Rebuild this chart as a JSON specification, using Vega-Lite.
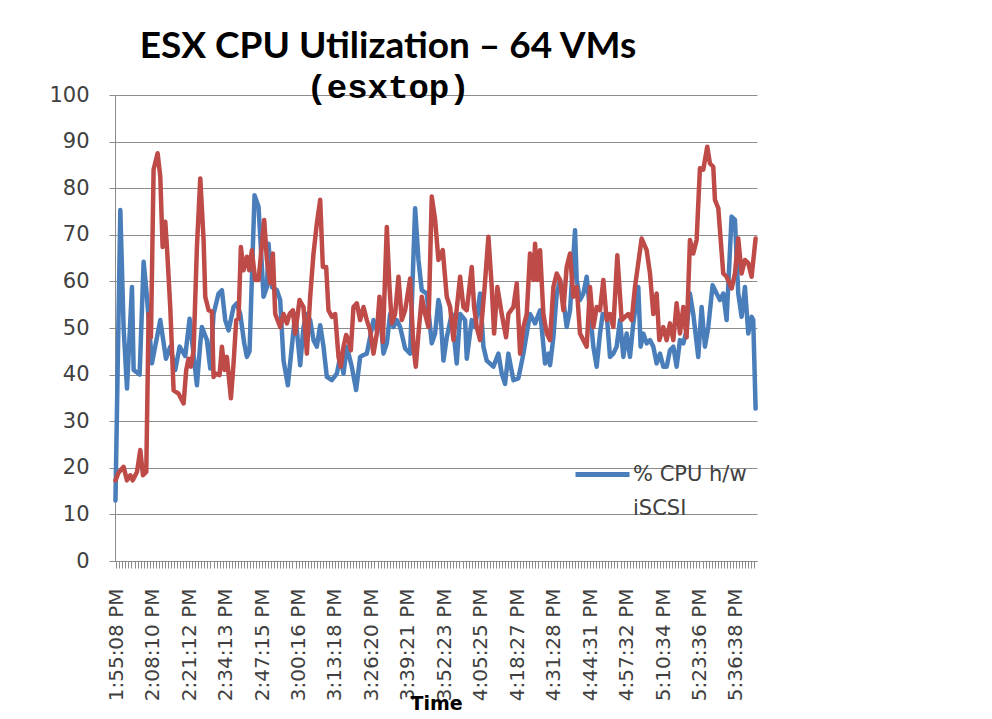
{
  "$schema": "https://vega.github.io/schema/vega-lite/v6.json",
  "width": 642,
  "height": 466,
  "autosize": "none",
  "padding": {"left": 115, "top": 95, "right": 235, "bottom": 158},
  "background": "white",
  "config": {"view": {"stroke": null}, "font": "DejaVu Sans"},
  "title": {
    "text": "ESX CPU Utilization – 64 VMs",
    "subtitle": "(esxtop)",
    "font": "Lato",
    "fontSize": 37,
    "fontWeight": "bold",
    "color": "black",
    "subtitleFont": "Liberation Mono",
    "subtitleFontSize": 34,
    "subtitleFontWeight": "bold",
    "subtitleColor": "black",
    "anchor": "middle",
    "dx": -48,
    "offset": -22,
    "subtitlePadding": 5
  },
  "datasets": {
    "hw": [
      {"t":6890,"cpu":13},{"t":6994,"cpu":75.3},{"t":7065,"cpu":50},{"t":7137,"cpu":37},{"t":7244,"cpu":58.8},{"t":7280,"cpu":41},{"t":7408,"cpu":40},{"t":7494,"cpu":64.2},{"t":7565,"cpu":56.7},{"t":7672,"cpu":42.4},{"t":7851,"cpu":51.7},{"t":7973,"cpu":43.4},{"t":8065,"cpu":46},{"t":8173,"cpu":41},{"t":8266,"cpu":46},{"t":8387,"cpu":44},{"t":8480,"cpu":52},{"t":8637,"cpu":37.7},{"t":8709,"cpu":46.7},{"t":8744,"cpu":50.2},{"t":8851,"cpu":47.4},{"t":8923,"cpu":41.3},{"t":8994,"cpu":53},{"t":9101,"cpu":57.4},{"t":9173,"cpu":58.1},{"t":9244,"cpu":51.7},{"t":9316,"cpu":49.5},{"t":9423,"cpu":54.5},{"t":9494,"cpu":55.3},{"t":9566,"cpu":53},{"t":9652,"cpu":46.7},{"t":9709,"cpu":43.8},{"t":9766,"cpu":45},{"t":9873,"cpu":78.5},{"t":9959,"cpu":76},{"t":9995,"cpu":69.6},{"t":10066,"cpu":56.7},{"t":10138,"cpu":58.8},{"t":10173,"cpu":68.1},{"t":10245,"cpu":58.8},{"t":10352,"cpu":58.1},{"t":10423,"cpu":56},{"t":10495,"cpu":43},{"t":10588,"cpu":37.7},{"t":10745,"cpu":53},{"t":10781,"cpu":49.5},{"t":10852,"cpu":42},{"t":10923,"cpu":50.2},{"t":10995,"cpu":53},{"t":11066,"cpu":51.7},{"t":11138,"cpu":47.4},{"t":11209,"cpu":46},{"t":11281,"cpu":50.6},{"t":11352,"cpu":46},{"t":11424,"cpu":39.5},{"t":11531,"cpu":38.8},{"t":11638,"cpu":40.2},{"t":11709,"cpu":43.8},{"t":11781,"cpu":40.2},{"t":11852,"cpu":46},{"t":11959,"cpu":41.7},{"t":12052,"cpu":36.7},{"t":12138,"cpu":43.8},{"t":12210,"cpu":44.2},{"t":12281,"cpu":44.5},{"t":12424,"cpu":51.7},{"t":12495,"cpu":49.5},{"t":12567,"cpu":53},{"t":12638,"cpu":44.5},{"t":12710,"cpu":46.7},{"t":12781,"cpu":53},{"t":12853,"cpu":50.2},{"t":12924,"cpu":51.7},{"t":12996,"cpu":50.2},{"t":13103,"cpu":45.6},{"t":13210,"cpu":44.5},{"t":13317,"cpu":75.7},{"t":13389,"cpu":64.6},{"t":13460,"cpu":58.1},{"t":13567,"cpu":57.4},{"t":13674,"cpu":46.7},{"t":13746,"cpu":48.8},{"t":13817,"cpu":56},{"t":13853,"cpu":54.5},{"t":13925,"cpu":43},{"t":13996,"cpu":48},{"t":14103,"cpu":53},{"t":14210,"cpu":42.4},{"t":14282,"cpu":53},{"t":14389,"cpu":51.7},{"t":14425,"cpu":43.4},{"t":14532,"cpu":51.7},{"t":14603,"cpu":50.2},{"t":14711,"cpu":57.4},{"t":14782,"cpu":46},{"t":14853,"cpu":43},{"t":14996,"cpu":41.7},{"t":15104,"cpu":44.5},{"t":15175,"cpu":40.2},{"t":15246,"cpu":38},{"t":15318,"cpu":44.5},{"t":15425,"cpu":38.8},{"t":15532,"cpu":39.2},{"t":15640,"cpu":44.5},{"t":15711,"cpu":48.8},{"t":15782,"cpu":53},{"t":15890,"cpu":51},{"t":15997,"cpu":53.8},{"t":16104,"cpu":42.4},{"t":16175,"cpu":44.5},{"t":16211,"cpu":42},{"t":16283,"cpu":48},{"t":16354,"cpu":57.4},{"t":16425,"cpu":60.3},{"t":16497,"cpu":56},{"t":16568,"cpu":50.2},{"t":16640,"cpu":53.8},{"t":16747,"cpu":71},{"t":16783,"cpu":60.3},{"t":16854,"cpu":56},{"t":16926,"cpu":57.4},{"t":16997,"cpu":61},{"t":17068,"cpu":53.8},{"t":17140,"cpu":46},{"t":17211,"cpu":41.7},{"t":17283,"cpu":48.8},{"t":17340,"cpu":53},{"t":17426,"cpu":53},{"t":17497,"cpu":43.8},{"t":17569,"cpu":44.5},{"t":17640,"cpu":46},{"t":17712,"cpu":51.7},{"t":17783,"cpu":43.8},{"t":17854,"cpu":48.8},{"t":17926,"cpu":43.8},{"t":17997,"cpu":51},{"t":18104,"cpu":58.8},{"t":18154,"cpu":46},{"t":18212,"cpu":48.8},{"t":18283,"cpu":46.7},{"t":18355,"cpu":47.4},{"t":18426,"cpu":46},{"t":18497,"cpu":42.4},{"t":18569,"cpu":44.5},{"t":18640,"cpu":41.7},{"t":18712,"cpu":41.7},{"t":18783,"cpu":45.2},{"t":18855,"cpu":46},{"t":18926,"cpu":41.7},{"t":18998,"cpu":47.4},{"t":19069,"cpu":46.7},{"t":19140,"cpu":49.5},{"t":19212,"cpu":57.4},{"t":19283,"cpu":53},{"t":19390,"cpu":43.8},{"t":19462,"cpu":54.5},{"t":19533,"cpu":46},{"t":19605,"cpu":50.2},{"t":19698,"cpu":59.2},{"t":19784,"cpu":57.4},{"t":19855,"cpu":56},{"t":19927,"cpu":57.4},{"t":19998,"cpu":51.7},{"t":20105,"cpu":73.9},{"t":20177,"cpu":73.2},{"t":20248,"cpu":57.4},{"t":20320,"cpu":52.4},{"t":20391,"cpu":58.8},{"t":20463,"cpu":48.8},{"t":20534,"cpu":52.4},{"t":20569,"cpu":51.7},{"t":20620,"cpu":32.7}
    ],
    "sw": [
      {"t":6890,"cpu":17.3},{"t":6958,"cpu":19},{"t":7065,"cpu":20.2},{"t":7137,"cpu":17.3},{"t":7208,"cpu":18.4},{"t":7258,"cpu":17.3},{"t":7351,"cpu":19.1},{"t":7422,"cpu":23.8},{"t":7480,"cpu":18.4},{"t":7551,"cpu":19.1},{"t":7601,"cpu":53},{"t":7651,"cpu":48},{"t":7708,"cpu":84},{"t":7794,"cpu":87.5},{"t":7851,"cpu":82.5},{"t":7901,"cpu":67.4},{"t":7958,"cpu":72.8},{"t":7994,"cpu":67.4},{"t":8065,"cpu":54.5},{"t":8137,"cpu":36.6},{"t":8244,"cpu":35.9},{"t":8351,"cpu":33.8},{"t":8408,"cpu":41},{"t":8458,"cpu":43.4},{"t":8508,"cpu":41.7},{"t":8566,"cpu":45.2},{"t":8637,"cpu":67.4},{"t":8709,"cpu":82.1},{"t":8780,"cpu":68.9},{"t":8816,"cpu":56.7},{"t":8887,"cpu":53.8},{"t":8959,"cpu":53.5},{"t":8994,"cpu":39.5},{"t":9044,"cpu":40.2},{"t":9123,"cpu":39.9},{"t":9173,"cpu":46},{"t":9230,"cpu":41},{"t":9280,"cpu":43.8},{"t":9366,"cpu":34.9},{"t":9423,"cpu":42.4},{"t":9480,"cpu":51.7},{"t":9530,"cpu":52},{"t":9580,"cpu":67.4},{"t":9637,"cpu":62.4},{"t":9709,"cpu":65.3},{"t":9759,"cpu":62.4},{"t":9816,"cpu":66.7},{"t":9887,"cpu":60.3},{"t":9959,"cpu":60.3},{"t":10080,"cpu":73.2},{"t":10138,"cpu":64.6},{"t":10209,"cpu":59.6},{"t":10266,"cpu":66},{"t":10316,"cpu":53},{"t":10423,"cpu":50.2},{"t":10495,"cpu":53},{"t":10566,"cpu":51},{"t":10623,"cpu":53},{"t":10695,"cpu":53.8},{"t":10745,"cpu":48.8},{"t":10838,"cpu":56},{"t":10923,"cpu":54.5},{"t":10995,"cpu":44.5},{"t":11066,"cpu":56.7},{"t":11138,"cpu":66},{"t":11209,"cpu":72.4},{"t":11281,"cpu":77.5},{"t":11338,"cpu":63.1},{"t":11409,"cpu":63.1},{"t":11459,"cpu":53.8},{"t":11531,"cpu":52.4},{"t":11602,"cpu":53},{"t":11674,"cpu":43.8},{"t":11724,"cpu":41.7},{"t":11781,"cpu":46},{"t":11838,"cpu":48.5},{"t":11888,"cpu":47.4},{"t":11938,"cpu":45.2},{"t":11995,"cpu":54.5},{"t":12067,"cpu":55.3},{"t":12138,"cpu":51.7},{"t":12210,"cpu":54.5},{"t":12281,"cpu":51.7},{"t":12352,"cpu":49.5},{"t":12424,"cpu":44.5},{"t":12495,"cpu":48.8},{"t":12553,"cpu":56.7},{"t":12624,"cpu":47},{"t":12710,"cpu":71.7},{"t":12767,"cpu":58.8},{"t":12817,"cpu":51},{"t":12888,"cpu":53},{"t":12960,"cpu":61},{"t":13031,"cpu":51.7},{"t":13103,"cpu":53.8},{"t":13210,"cpu":60.6},{"t":13281,"cpu":46},{"t":13331,"cpu":41.7},{"t":13389,"cpu":48.8},{"t":13460,"cpu":56.7},{"t":13531,"cpu":53},{"t":13603,"cpu":50.2},{"t":13674,"cpu":78.2},{"t":13746,"cpu":73.2},{"t":13817,"cpu":64.6},{"t":13853,"cpu":65.3},{"t":13910,"cpu":66.7},{"t":13996,"cpu":56.7},{"t":14068,"cpu":54.5},{"t":14139,"cpu":47.4},{"t":14282,"cpu":61},{"t":14353,"cpu":54.5},{"t":14425,"cpu":53.8},{"t":14532,"cpu":63.1},{"t":14582,"cpu":54.5},{"t":14639,"cpu":50.2},{"t":14711,"cpu":47.4},{"t":14803,"cpu":58.1},{"t":14889,"cpu":69.6},{"t":14961,"cpu":58.8},{"t":15011,"cpu":48.8},{"t":15082,"cpu":58.8},{"t":15175,"cpu":53},{"t":15268,"cpu":48},{"t":15318,"cpu":53},{"t":15425,"cpu":54.5},{"t":15497,"cpu":59.6},{"t":15568,"cpu":44.5},{"t":15640,"cpu":50.2},{"t":15711,"cpu":53},{"t":15782,"cpu":66},{"t":15854,"cpu":60.3},{"t":15890,"cpu":68.1},{"t":15940,"cpu":60.3},{"t":15997,"cpu":66.7},{"t":16068,"cpu":53},{"t":16140,"cpu":48.8},{"t":16211,"cpu":47.4},{"t":16283,"cpu":58.8},{"t":16354,"cpu":61.7},{"t":16425,"cpu":60.3},{"t":16497,"cpu":53.8},{"t":16568,"cpu":63.1},{"t":16640,"cpu":66},{"t":16711,"cpu":56.7},{"t":16783,"cpu":58.8},{"t":16854,"cpu":48.8},{"t":16926,"cpu":47.4},{"t":16997,"cpu":46},{"t":17068,"cpu":58.8},{"t":17140,"cpu":50.2},{"t":17211,"cpu":54.5},{"t":17283,"cpu":53.8},{"t":17354,"cpu":60.3},{"t":17426,"cpu":51.7},{"t":17497,"cpu":53},{"t":17569,"cpu":50.2},{"t":17654,"cpu":65.6},{"t":17747,"cpu":51.7},{"t":17819,"cpu":52.4},{"t":17890,"cpu":53},{"t":17962,"cpu":51.7},{"t":18033,"cpu":58.8},{"t":18176,"cpu":69.2},{"t":18283,"cpu":66.7},{"t":18355,"cpu":61.7},{"t":18426,"cpu":53},{"t":18497,"cpu":57.4},{"t":18555,"cpu":47.4},{"t":18640,"cpu":50.2},{"t":18712,"cpu":47.4},{"t":18783,"cpu":51},{"t":18855,"cpu":47.4},{"t":18926,"cpu":55.3},{"t":18998,"cpu":48.8},{"t":19069,"cpu":54.5},{"t":19140,"cpu":48},{"t":19212,"cpu":68.9},{"t":19283,"cpu":66},{"t":19355,"cpu":68.9},{"t":19426,"cpu":84.3},{"t":19498,"cpu":84},{"t":19583,"cpu":88.9},{"t":19641,"cpu":85.3},{"t":19712,"cpu":84.6},{"t":19748,"cpu":77.5},{"t":19820,"cpu":75.7},{"t":19926,"cpu":61.7},{"t":19998,"cpu":61},{"t":20105,"cpu":58.5},{"t":20177,"cpu":61.7},{"t":20248,"cpu":69.2},{"t":20320,"cpu":61.7},{"t":20391,"cpu":64.6},{"t":20463,"cpu":63.9},{"t":20534,"cpu":61},{"t":20620,"cpu":69.2}
    ]
  },
  "encoding": {
    "x": {
      "field": "t",
      "type": "quantitative",
      "scale": {"domain": [6880, 20650], "nice": false, "zero": false},
      "axis": {
        "title": "Time",
        "titleFont": "DejaVu Sans",
        "titleFontSize": 19,
        "titleFontWeight": "bold",
        "titleColor": "black",
        "titlePadding": -6,
        "values": [6908,6973.15,7038.3,7103.45,7168.6,7233.75,7298.9,7364.05,7429.2,7494.35,7559.5,7624.65,
          7690,7755.15,7820.3,7885.45,7950.6,8015.75,8080.9,8146.05,8211.2,8276.35,8341.5,8406.65,
          8472,8537.15,8602.3,8667.45,8732.6,8797.75,8862.9,8928.05,8993.2,9058.35,9123.5,9188.65,
          9253,9318.15,9383.3,9448.45,9513.6,9578.75,9643.9,9709.05,9774.2,9839.35,9904.5,9969.65,
          10035,10100.15,10165.3,10230.45,10295.6,10360.75,10425.9,10491.05,10556.2,10621.35,10686.5,10751.65,
          10816,10881.15,10946.3,11011.45,11076.6,11141.75,11206.9,11272.05,11337.2,11402.35,11467.5,11532.65,
          11598,11663.15,11728.3,11793.45,11858.6,11923.75,11988.9,12054.05,12119.2,12184.35,12249.5,12314.65,
          12380,12445.15,12510.3,12575.45,12640.6,12705.75,12770.9,12836.05,12901.2,12966.35,13031.5,13096.65,
          13161,13226.15,13291.3,13356.45,13421.6,13486.75,13551.9,13617.05,13682.2,13747.35,13812.5,13877.65,
          13943,14008.15,14073.3,14138.45,14203.6,14268.75,14333.9,14399.05,14464.2,14529.35,14594.5,14659.65,
          14725,14790.15,14855.3,14920.45,14985.6,15050.75,15115.9,15181.05,15246.2,15311.35,15376.5,15441.65,
          15507,15572.15,15637.3,15702.45,15767.6,15832.75,15897.9,15963.05,16028.2,16093.35,16158.5,16223.65,
          16288,16353.15,16418.3,16483.45,16548.6,16613.75,16678.9,16744.05,16809.2,16874.35,16939.5,17004.65,
          17071,17136.15,17201.3,17266.45,17331.6,17396.75,17461.9,17527.05,17592.2,17657.35,17722.5,17787.65,
          17852,17917.15,17982.3,18047.45,18112.6,18177.75,18242.9,18308.05,18373.2,18438.35,18503.5,18568.65,
          18634,18699.15,18764.3,18829.45,18894.6,18959.75,19024.9,19090.05,19155.2,19220.35,19285.5,19350.65,
          19416,19481.15,19546.3,19611.45,19676.6,19741.75,19806.9,19872.05,19937.2,20002.35,20067.5,20132.65,
          20198,20263.15,20328.3,20393.45,20458.6,20523.75,20588.9],
        "labelExpr": "indexof([6908,7690,8472,9253,10035,10816,11598,12380,13161,13943,14725,15507,16288,17071,17852,18634,19416,20198], datum.value) >= 0 ? utcFormat(datum.value * 1000, '%-I:%M:%S') + ' PM' : ''",
        "labelAngle": 270,
        "labelAlign": "right",
        "labelBaseline": "middle",
        "labelFont": "DejaVu Sans",
        "labelFontSize": 20,
        "labelColor": "#404040",
        "labelOverlap": false,
        "labelFlush": false,
        "labelBound": false,
        "labelPadding": 20,
        "tickSize": 7,
        "tickColor": "#8c8c8c",
        "domainColor": "#8c8c8c",
        "grid": false
      }
    },
    "y": {
      "field": "cpu",
      "type": "quantitative",
      "scale": {"domain": [0, 100], "nice": false},
      "axis": {
        "title": null,
        "values": [0, 10, 20, 30, 40, 50, 60, 70, 80, 90, 100],
        "labelFont": "DejaVu Sans",
        "labelFontSize": 21,
        "labelColor": "#404040",
        "labelPadding": 20,
        "tickSize": 6,
        "tickColor": "#8c8c8c",
        "domainColor": "#8c8c8c",
        "grid": true,
        "gridColor": "#8c8c8c",
        "gridWidth": 1
      }
    }
  },
  "layer": [
    {
      "data": {"name": "hw"},
      "mark": {"type": "line", "strokeWidth": 4.5, "strokeJoin": "round", "strokeCap": "round"},
      "encoding": {
        "color": {
          "datum": "% CPU h/w iSCSI",
          "type": "nominal",
          "scale": {"domain": ["% CPU h/w iSCSI", "% CPU s/w iSCSI"], "range": ["#4A7EBB", "#BE4B48"]},
          "legend": {
            "values": ["% CPU h/w iSCSI"],
            "orient": "none",
            "legendX": 458,
            "legendY": 350,
            "title": null,
            "padding": 0,
            "symbolType": "stroke",
            "symbolSize": 2916,
            "symbolStrokeWidth": 5,
            "labelFont": "DejaVu Sans",
            "labelFontSize": 21,
            "labelColor": "#404040",
            "labelOffset": 1,
            "labelLimit": 300,
            "labelBaseline": "middle",
            "labelExpr": "['% CPU h/w', 'iSCSI']",
            "encode": {"labels": {"update": {"lineHeight": {"value": 34}, "dy": {"value": 0}}}}
          }
        }
      }
    },
    {
      "data": {"name": "sw"},
      "mark": {"type": "line", "strokeWidth": 4.5, "strokeJoin": "round", "strokeCap": "round"},
      "encoding": {
        "color": {"datum": "% CPU s/w iSCSI", "type": "nominal"}
      }
    }
  ]
}
